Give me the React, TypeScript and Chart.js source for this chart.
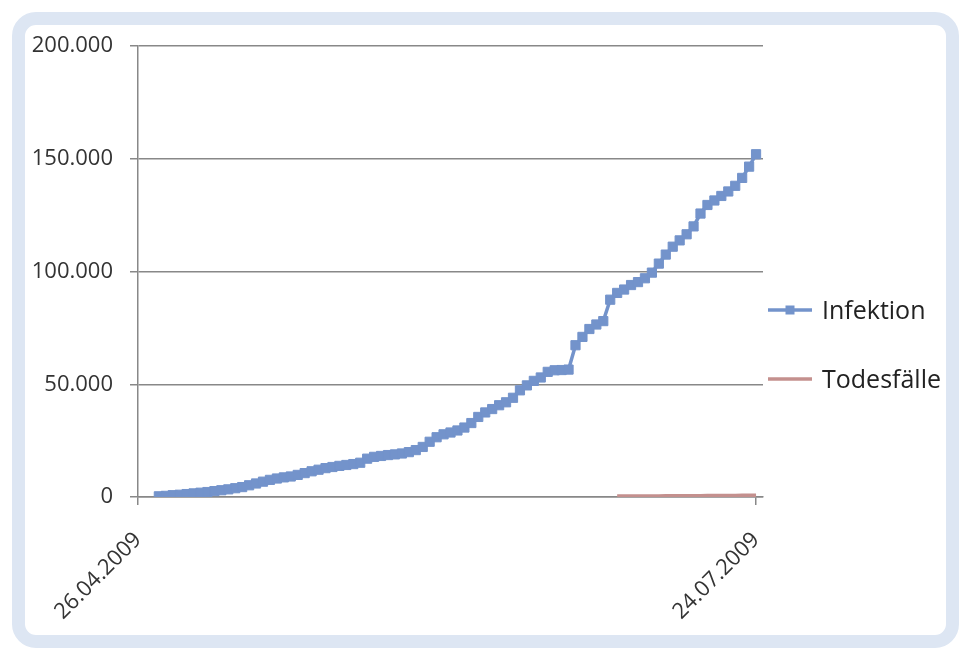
import React, { useEffect, useRef } from "react";
import { Chart, registerables } from "chart.js";

Chart.register(...registerables);

// X axis: day offsets from 26.04.2009
const xMinDay = 0;
const xMaxDay = 90;
const xTickDays = [0, 89];
const xTickLabels = ["26.04.2009", "24.07.2009"];

// Y axis
const yMin = 0;
const yMax = 200000;
const yStep = 50000;

const seriesNames = ["Infektion", "Todesfälle"];
const seriesColors = ["#7393cb", "#c4908e"];

// Infektion: daily values starting at day 3 (29.04.2009)
const infectionFirstDay = 3;
const infections = [
  300, 500, 800, 1000, 1300, 1600, 1900, 2200, 2600, 3000,
  3400, 3900, 4400, 5200, 6000, 6800, 7600, 8200, 8700, 9100,
  9800, 10600, 11400, 12100, 12800, 13300, 13800, 14200, 14600, 15200,
  17000, 17800, 18200, 18600, 18900, 19300, 19900, 20800, 22200, 24500,
  26500, 27800, 28600, 29500, 30800, 32800, 35500, 37500, 39000, 40700,
  42000, 44000, 47300, 49500, 51500, 53000, 55500, 56200, 56300, 56500,
  67300, 71000, 74500, 76500, 78000, 87500, 90500, 92000, 94000, 95300,
  97000, 99500, 103500, 107500, 111000, 113800, 116500, 120000, 125700, 129500,
  131500, 133500, 135500, 138000, 141500, 146500, 152000,
];

// Todesfälle: daily values starting at day 69
const deathsFirstDay = 69;
const deaths = [
  400, 420, 430, 440, 450, 460, 480, 500, 520, 540,
  560, 580, 600, 620, 650, 680, 700, 720, 750, 780, 800,
];

const fmt = (n: number) =>
  Math.round(n).toString().replace(/\B(?=(\d{3})+(?!\d))/g, ".");

const FONT = '"Open Sans", sans-serif';

const legendPlugin = {
  id: "sideLegend",
  afterDraw(chart: any) {
    const ctx = chart.ctx as CanvasRenderingContext2D;
    const area = chart.chartArea;
    const x0 = area.right + 5;
    const rows = [area.top + 264, area.top + 333];
    ctx.save();
    chart.data.datasets.forEach((ds: any, i: number) => {
      const y = rows[i];
      ctx.strokeStyle = ds.borderColor;
      ctx.lineWidth = 3.5;
      ctx.beginPath();
      ctx.moveTo(x0, y);
      ctx.lineTo(x0 + 44, y);
      ctx.stroke();
      if (ds.pointRadius > 0) {
        ctx.fillStyle = ds.borderColor;
        ctx.fillRect(x0 + 22 - 4.5, y - 4.5, 9, 9);
      }
      ctx.fillStyle = "#222222";
      ctx.font = `25px ${FONT}`;
      ctx.textBaseline = "alphabetic";
      ctx.textAlign = "left";
      ctx.fillText(ds.label, x0 + 54, y + 9);
    });
    ctx.restore();
  },
};

export default function App() {
  const canvasRef = useRef<HTMLCanvasElement | null>(null);

  useEffect(() => {
    let chart: Chart | null = null;
    let cancelled = false;
    const build = () => {
      if (cancelled || !canvasRef.current) return;
      chart = new Chart(canvasRef.current, {
        type: "line",
        data: {
          datasets: [
            {
              label: seriesNames[0],
              data: infections.map((v, i) => ({ x: infectionFirstDay + i, y: v })),
              borderColor: seriesColors[0],
              backgroundColor: seriesColors[0],
              borderWidth: 3.5,
              pointStyle: "rect",
              pointRadius: 6.5,
              pointBorderWidth: 1,
              tension: 0,
            },
            {
              label: seriesNames[1],
              data: deaths.map((v, i) => ({ x: deathsFirstDay + i, y: v })),
              borderColor: seriesColors[1],
              backgroundColor: seriesColors[1],
              borderWidth: 3.5,
              pointRadius: 0,
              tension: 0,
            },
          ],
        },
        options: {
          animation: false,
          responsive: false,
          devicePixelRatio: 1,
          layout: { padding: { left: 0, top: 46, right: 196, bottom: 0 } },
          plugins: { legend: { display: false }, tooltip: { enabled: false } },
          scales: {
            x: {
              type: "linear",
              min: xMinDay,
              max: xMaxDay,
              afterBuildTicks: (scale: any) => {
                scale.ticks = xTickDays.map((v) => ({ value: v }));
              },
              afterFit: (scale: any) => {
                scale.height = 151;
              },
              ticks: {
                autoSkip: false,
                minRotation: 45,
                maxRotation: 45,
                padding: 22,
                color: "#333333",
                font: { family: FONT, size: 22 },
                callback: (value: any) => {
                  const idx = xTickDays.indexOf(Number(value));
                  return idx >= 0 ? xTickLabels[idx] : "";
                },
              },
              grid: {
                drawOnChartArea: false,
                drawTicks: true,
                tickLength: 8,
                color: "#888888",
                lineWidth: 1.5,
              },
              border: { display: true, color: "#888888", width: 1.5 },
            },
            y: {
              min: yMin,
              max: yMax,
              afterFit: (scale: any) => {
                scale.width = 138;
              },
              ticks: {
                stepSize: yStep,
                padding: 17,
                color: "#333333",
                font: { family: FONT, size: 22 },
                callback: (value: any) => fmt(Number(value)),
              },
              grid: {
                color: "#888888",
                lineWidth: 1.5,
                tickLength: 8,
                drawTicks: true,
              },
              border: { display: true, color: "#888888", width: 1.5 },
            },
          },
        },
        plugins: [legendPlugin],
      } as any);
    };
    const fontsApi = (document as any).fonts;
    if (fontsApi && fontsApi.load) {
      Promise.all([
        fontsApi.load(`22px "Open Sans"`),
        fontsApi.load(`25px "Open Sans"`),
      ])
        .catch(() => null)
        .then(build);
    } else {
      build();
    }
    return () => {
      cancelled = true;
      if (chart) chart.destroy();
    };
  }, []);

  return (
    <div
      style={{
        position: "fixed",
        left: 0,
        top: 0,
        width: 959,
        height: 648,
        background: "#ffffff",
        overflow: "hidden",
      }}
    >
      <div
        style={{
          position: "absolute",
          left: 12,
          top: 12,
          width: 947,
          height: 636,
          boxSizing: "border-box",
          border: "13px solid #dde6f3",
          borderRadius: 24,
          background: "#ffffff",
        }}
      />
      <canvas
        ref={canvasRef}
        width={959}
        height={648}
        style={{ position: "absolute", left: 0, top: 0, width: 959, height: 648 }}
      />
    </div>
  );
}
